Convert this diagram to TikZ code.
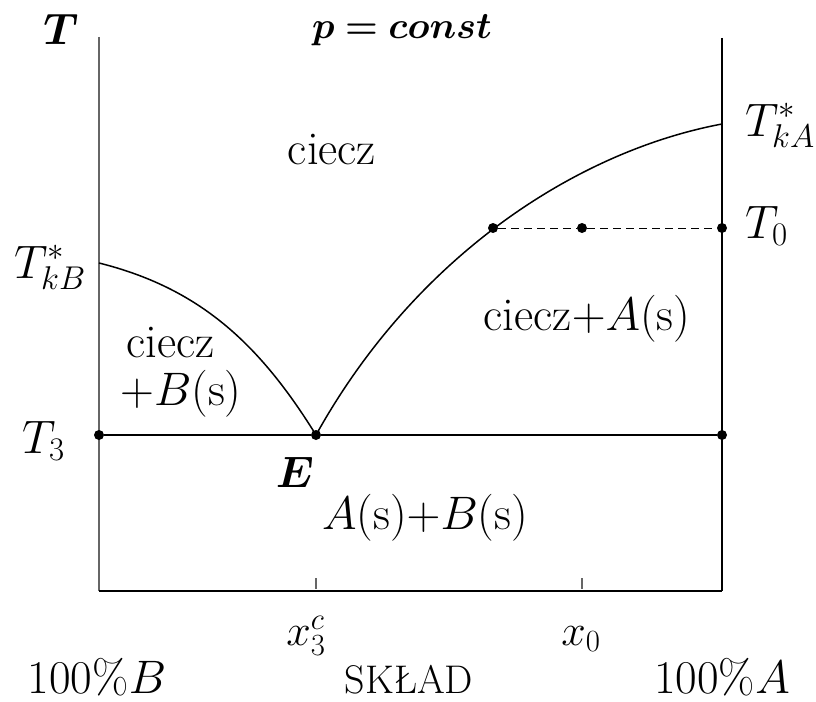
\RequirePackage{fix-cm}
\documentclass[tikz,border=0pt]{standalone}
\usepackage{fontspec}
\usepackage{bm}
\begin{document}
\begin{tikzpicture}[x=1pt,y=-1pt,
  lbl/.style={inner sep=0pt,font=\fontsize{47}{52}\selectfont},
  xlbl/.style={inner sep=0pt,font=\fontsize{44}{48}\selectfont},
  dotmark/.style={circle,fill=black,inner sep=0pt,minimum size=10pt},
  curve/.style={line width=1.5pt,black},
  axis/.style={line width=1.4pt,black!60},
  tick/.style={line width=1.2pt,black!60}]
\useasboundingbox (0,0) rectangle (816,701);
% axes
\coordinate (Ltop) at (99,37);
\coordinate (Lbot) at (99,591);
\coordinate (Rtop) at (722,38);
\coordinate (Rbot) at (722,591);
\draw[axis] (Ltop) -- (Lbot);
\draw[line width=1.2pt] (Rtop) -- (Rbot);
\draw[line width=1.8pt] (Lbot) -- (Rbot);
\coordinate (t1a) at (316,578); \coordinate (t1b) at (316,589);
\coordinate (t2a) at (582,578); \coordinate (t2b) at (582,589);
\draw[tick] (t1a) -- (t1b);
\draw[tick] (t2a) -- (t2b);
% eutectic line
\node[dotmark] (L3) at (99,435) {};
\node[dotmark] (E) at (316,435) {};
\node[dotmark] (R3) at (722,435) {};
\draw[line width=1.8pt] (L3) -- (E) -- (R3);
% liquidus curves
\coordinate (TkB) at (99,263);
\coordinate (TkA) at (722,124);
\draw[curve] (TkB) .. controls (199,288) and (259,343) .. (E.center);
\draw[curve] (E.center) .. controls (416,255) and (578,151) .. (TkA);
% T0 tie line
\node[dotmark] (P1) at (493,228) {};
\node[dotmark] (P2) at (582,228) {};
\node[dotmark] (P3) at (722,228) {};
\draw[line width=0.9pt,dash pattern=on 8pt off 5pt] (P1) -- (P2) -- (P3);
% labels
\node[xlbl,anchor=base] (lT) at (61,45) {$\bm{T}$};
\node[xlbl,anchor=base,font=\fontsize{37.5}{42}\selectfont] (lp) at (402,38) {$\bm{p=const}$};
\node[lbl,anchor=base] (lciecz) at (332,164) {ciecz};
\node[lbl,anchor=base west] (lTkA) at (745,136) {$T^*_{kA}$};
\node[lbl,anchor=base west] (lT0) at (745,238) {$T_0$};
\node[lbl,anchor=base west] (lTkB) at (14,278) {$T^*_{kB}$};
\node[lbl,anchor=base] (lcA) at (587,330) {ciecz$+A$(s)};
\node[lbl,anchor=base west] (lcB1) at (126,357) {ciecz};
\node[lbl,anchor=base west] (lcB2) at (120,405) {$+B$(s)};
\node[lbl,anchor=base west] (lT3) at (22,453) {$T_3$};
\node[xlbl,anchor=base] (lE) at (295,487) {$\bm{E}$};
\node[lbl,anchor=base] (lAB) at (425,529) {$A$(s)$+B$(s)};
\node[xlbl,anchor=base] (lx3) at (306,645) {$x_3^c$};
\node[xlbl,anchor=base] (lx0) at (581,645) {$x_0$};
\node[lbl,anchor=base] (l100B) at (97,693) {100\%$B$};
\node[lbl,anchor=base,font=\fontsize{40}{44}\selectfont] (lsk) at (409,693) {SKŁAD};
\node[lbl,anchor=base] (l100A) at (722,693) {100\%$A$};
\end{tikzpicture}
\end{document}
